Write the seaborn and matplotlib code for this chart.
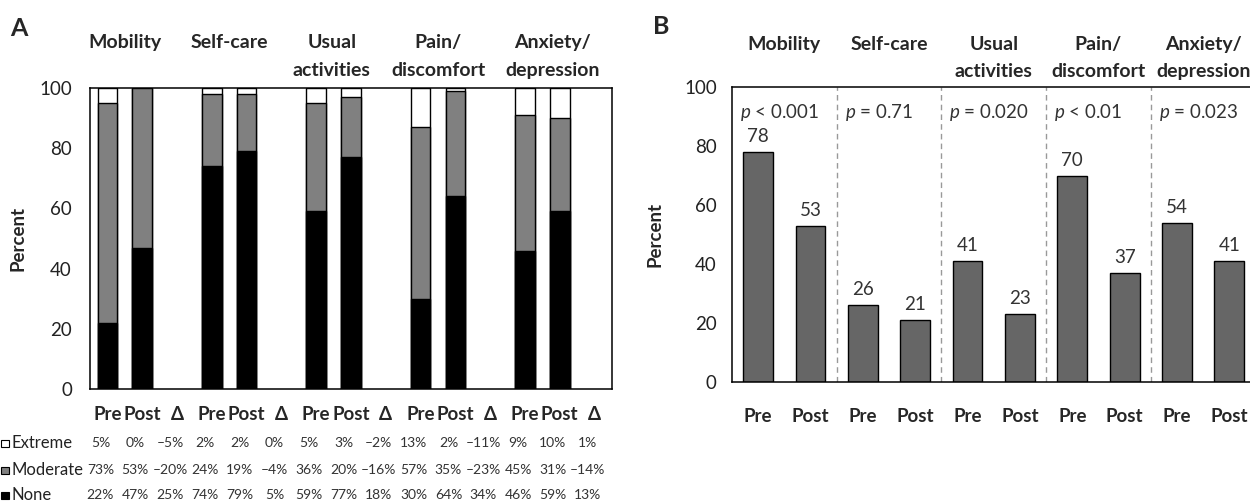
import numpy as np
import pandas as pd
import matplotlib
matplotlib.use("Agg")
import matplotlib.pyplot as plt
import matplotlib.transforms as mtransforms
from matplotlib.patches import Rectangle
import seaborn as sns

# EQ-5D domains
domains = ["Mobility", "Self-care", "Usual\nactivities", "Pain/\ndiscomfort", "Anxiety/\ndepression"]
phases = ["Pre", "Post"]

# Panel A: share of answers per level (%), Pre/Post for each domain
none_pct = [22, 47, 74, 79, 59, 77, 30, 64, 46, 59]
moderate_pct = [73, 53, 24, 19, 36, 20, 57, 35, 45, 31]
extreme_pct = [5, 0, 2, 2, 5, 3, 13, 2, 9, 10]

# table under panel A: Pre, Post, delta for each domain
table_extreme = ["5%", "0%", "–5%", "2%", "2%", "0%", "5%", "3%", "–2%",
                 "13%", "2%", "–11%", "9%", "10%", "1%"]
table_moderate = ["73%", "53%", "–20%", "24%", "19%", "–4%", "36%", "20%", "–16%",
                  "57%", "35%", "–23%", "45%", "31%", "–14%"]
table_none = ["22%", "47%", "25%", "74%", "79%", "5%", "59%", "77%", "18%",
              "30%", "64%", "34%", "46%", "59%", "13%"]

# Panel B: percent reporting any problem
any_problem = [78, 53, 26, 21, 41, 23, 70, 37, 54, 41]
p_values = ["< 0.001", "= 0.71", "= 0.020", "< 0.01", "= 0.023"]

sns.set_style("white")
plt.rcParams["font.family"] = ["Lato", "DejaVu Sans"]
plt.rcParams["mathtext.fontset"] = "custom"
plt.rcParams["mathtext.it"] = "Lato:italic"
plt.rcParams["mathtext.rm"] = "Lato"

fig = plt.figure(figsize=(12.5, 5.03), dpi=100)
axA = fig.add_axes([90 / 1250, 114 / 503, 522 / 1250, 301 / 503])
axB = fig.add_axes([732 / 1250, 121 / 503, 523.5 / 1250, 295 / 503])

# ---------------- Panel A: stacked bars ----------------
slots_a = []
for i in range(len(domains)):
    slots_a += [f"{i}Pre", f"{i}Post", f"{i}D"]

df_a = pd.DataFrame({
    "slot": [f"{i}{p}" for i in range(len(domains)) for p in phases],
    "none": none_pct,
    "moderate": moderate_pct,
    "extreme": extreme_pct,
})
df_a["mod_top"] = df_a["none"] + df_a["moderate"]
df_a["ext_top"] = (df_a["mod_top"] + df_a["extreme"]).clip(upper=100)

for col, color in [("ext_top", "white"), ("mod_top", "#808080"), ("none", "black")]:
    sns.barplot(data=df_a, x="slot", y=col, order=slots_a, color=color,
                saturation=1, edgecolor="black", linewidth=1, width=0.56,
                errorbar=None, ax=axA)

axA.set_xlim(-0.5, len(slots_a) - 0.5)
axA.set_ylim(0, 100)
axA.set_yticks(range(0, 101, 20))
axA.set_xticks(range(len(slots_a)))
axA.set_xticklabels(["Pre", "Post", "Δ"] * len(domains), fontsize=13.5, fontweight="bold")
axA.tick_params(axis="x", length=0, pad=12)
axA.tick_params(axis="y", length=5, width=1.1, direction="out", pad=8,
                labelsize=13.5, labelcolor="#222222")
axA.set_xlabel("")
axA.set_ylabel("Percent", fontsize=13.5, fontweight="bold")
axA.yaxis.set_label_coords(-0.122, 0.5)
for s in axA.spines.values():
    s.set_linewidth(1.1)
    s.set_color("black")

tA = mtransforms.blended_transform_factory(axA.transData, axA.transAxes)
header_x_a = [0.5, 3.5, 6.45, 9.5, 12.8]
for hx, name in zip(header_x_a, domains):
    axA.text(hx, 1.178, name, transform=tA, ha="center", va="top",
             fontsize=14, fontweight="bold", linespacing=1.75)

# table rows under panel A
tF = mtransforms.blended_transform_factory(axA.transData, fig.transFigure)
rows = [("Extreme", table_extreme, "white", 1 - 443 / 503),
        ("Moderate", table_moderate, "#808080", 1 - 470 / 503),
        ("None", table_none, "black", 1 - 495 / 503)]
sq_w, sq_h = 7 / 1250, 7 / 503
for label, vals, color, yy in rows:
    fig.patches.append(Rectangle((1.5 / 1250, yy - sq_h / 2), sq_w, sq_h,
                                 transform=fig.transFigure, facecolor=color,
                                 edgecolor="black", linewidth=0.8))
    fig.text(12 / 1250, yy, label, fontsize=12, va="center", ha="left", color="#222222")
    for j, v in enumerate(vals):
        axA.text(j - 0.2, yy, v, transform=tF, fontsize=10, ha="center",
                 va="center", color="#333333")

# ---------------- Panel B: any problem ----------------
slots_b = [f"{i}{p}" for i in range(len(domains)) for p in phases]
df_b = pd.DataFrame({"slot": slots_b, "pct": any_problem})
sns.barplot(data=df_b, x="slot", y="pct", order=slots_b, color="#666666",
            saturation=1, edgecolor="black", linewidth=1, width=0.57,
            errorbar=None, ax=axB)
axB.bar_label(axB.containers[0], labels=[str(v) for v in any_problem],
              padding=5, fontsize=13.5, color="#333333")

axB.set_xlim(-0.5, len(slots_b) - 0.5)
axB.set_ylim(0, 100)
axB.set_yticks(range(0, 101, 20))
axB.set_xticks(range(len(slots_b)))
axB.set_xticklabels(phases * len(domains), fontsize=13.5, fontweight="bold")
dividers = [2 * i - 0.5 for i in range(len(domains) + 1)]
axB.set_xticks(dividers, minor=True)
axB.tick_params(axis="x", which="major", length=0, pad=19)
axB.tick_params(axis="x", which="minor", length=6, width=1.1, direction="out")
axB.tick_params(axis="y", length=5, width=1.1, direction="out", pad=6,
                labelsize=13.5, labelcolor="#222222")
axB.set_xlabel("")
axB.set_ylabel("Percent", fontsize=13.5, fontweight="bold")
axB.yaxis.set_label_coords(-0.13, 0.5)
for s in axB.spines.values():
    s.set_linewidth(1.1)
    s.set_color("black")

for d in dividers[1:-1]:
    axB.axvline(d, color="#999999", lw=1, ls=(0, (4, 3)))

tB = mtransforms.blended_transform_factory(axB.transData, axB.transAxes)
for i, (name, pv) in enumerate(zip(domains, p_values)):
    axB.text(2 * i + 0.5, 1.173, name, transform=tB, ha="center", va="top",
             fontsize=14, fontweight="bold", linespacing=1.75)
    axB.text(2 * i - 0.5 + 0.15, 0.915, r"$p$ " + pv, transform=tB,
             ha="left", va="center", fontsize=13.5, color="#333333")

fig.text(10 / 1250, 1 - 28 / 503, "A", fontsize=18, fontweight="bold", va="center", ha="left")
fig.text(653 / 1250, 1 - 27 / 503, "B", fontsize=18, fontweight="bold", va="center", ha="left")

fig.savefig("out.png", dpi=100)
